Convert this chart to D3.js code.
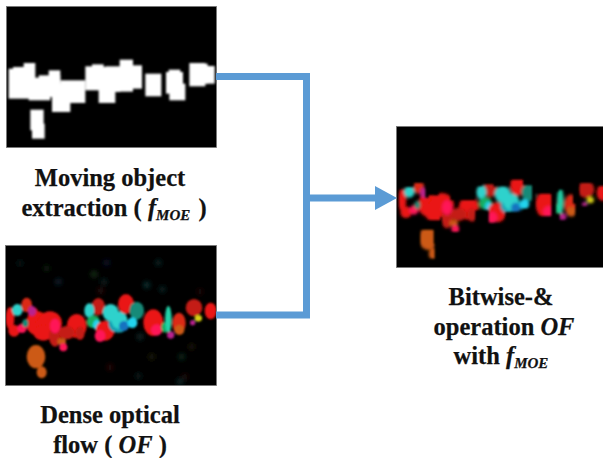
<!DOCTYPE html>
<html lang="en">
<head>
  <meta charset="utf-8">
  <title>Moving object extraction and optical flow</title>
  <script src="https://d3js.org/d3.v7.min.js"></script>
  <style>
    html, body { margin: 0; background: #fff; }
    svg { display: block; }
    text { font-family: "Liberation Serif", "Times New Roman", serif; font-weight: bold; font-size: 24.5px; fill: #111; stroke: #111; stroke-width: .25; text-anchor: middle; }
    .it { font-style: italic; }
    .sub { font-style: italic; font-size: 15px; }
  </style>
</head>
<body>
<svg width="603" height="458"></svg>
<script>

// all blob values are read in source pixels, 3x the page size
var maskBlocks = [
  [25, 205, 88, 295], [38, 200, 90, 292], [70, 188, 105, 240], [85, 232, 150, 300],
  [115, 225, 180, 290], [145, 210, 180, 260], [155, 250, 210, 335], [180, 240, 255, 308],
  [255, 198, 310, 270], [275, 192, 310, 210], [295, 200, 345, 308], [315, 198, 360, 275], [358, 178, 398, 274],
  [385, 195, 425, 265], [435, 220, 483, 288], [497, 215, 548, 280], [505, 208, 540, 240], [507, 250, 555, 300],
  [567, 188, 615, 258], [600, 190, 622, 250], [615, 197, 643, 250], [90, 328, 130, 390],
  [95, 370, 133, 415]
];

var flowBlobs = [
  [112, 250, 34, 36, 'red'], [150, 250, 36, 36, 'red'], [130, 278, 30, 24, 'red'], [100, 225, 16, 24, 'red'],
  [230, 258, 30, 36, 'red'], [165, 290, 18, 30, 'darkred'], [240, 280, 14, 20, 'darkred'], [200, 278, 24, 20, 'darkred'],
  [30, 235, 13, 34, 'red'], [42, 272, 17, 18, 'red'], [66, 265, 14, 14, 'pink'], [52, 210, 16, 18, 'cyan'],
  [80, 195, 16, 22, 'red2'], [96, 213, 12, 15, 'magenta'], [76, 250, 9, 12, 'teal'],
  [165, 258, 15, 22, 'pink'], [185, 305, 13, 10, 'orange'], [190, 322, 12, 12, 'pink'],
  [295, 200, 20, 26, 'darkred'], [268, 212, 15, 22, 'cyan'], [280, 245, 20, 19, 'green'], [290, 255, 11, 15, 'sky'],
  [315, 272, 28, 30, 'red'], [300, 288, 16, 18, 'pink'], [355, 252, 30, 26, 'blue2'], [332, 218, 24, 26, 'cyan'], [358, 240, 24, 26, 'cyan'],
  [378, 192, 24, 30, 'red'], [372, 258, 15, 15, 'blue'], [410, 212, 22, 27, 'teal'], [397, 248, 15, 16, 'sky'],
  [460, 248, 30, 40, 'red'], [470, 270, 17, 17, 'pink'], [495, 262, 11, 16, 'green'], [505, 238, 10, 40, 'mint'],
  [512, 285, 11, 11, 'magenta'], [537, 250, 20, 32, 'red2'], [538, 270, 15, 15, 'orange'], [582, 203, 25, 26, 'darkred'],
  [595, 235, 11, 10, 'yellow'], [578, 248, 8, 8, 'magenta'], [632, 213, 18, 25, 'red'], [108, 350, 28, 35, 'orange'],
  [125, 397, 15, 18, 'orange']
];

var noiseBlobs = [
  [282, 103, '#1c3a1c'], [175, 125, '#122838'], [312, 125, '#102828'], [440, 135, '#104040'], [487, 148, '#0f2a2a'],
  [302, 153, '#301010'], [475, 68, '#0f2a2a'], [320, 68, '#101830'], [600, 155, '#200808'], [420, 290, '#153030'],
  [545, 350, '#103020'], [455, 350, '#20200a'], [330, 382, '#300a0a'], [415, 408, '#102020'], [575, 320, '#201a0a'],
  [540, 425, '#103030'], [555, 410, '#200a08'], [60, 70, '#0a1a1a'], [140, 85, '#102010']
];

var flowColors = {
  red: '#ea1412', red2: '#dc2a16', darkred: '#c41a12', pink: '#ff1258', cyan: '#2fd2cc', magenta: '#b8208e',
  teal: '#128a78', green: '#12ae62', sky: '#22d4ee', blue: '#1272c0', blue2: '#12a0b2', mint: '#22d2a8',
  orange: '#cc5a12', yellow: '#d8d012'
};

var captionA = [['Moving object'], ['extraction ( ', ['it', 'f'], ['sub', 'MOE'], ' )']];
var captionB = [['Dense optical'], ['flow ( ', ['it', 'OF'], ' )']];
var captionC = [['Bitwise-&'], ['operation ', ['it', 'OF']], ['with ', ['it', 'f'], ['sub', 'MOE']]];

var svg = d3.select('svg');
var defs = svg.append('defs');
[['soft', .9], ['blur', 1.2], ['haze', 2.5]].forEach(([id, s]) => {
  defs.append('filter').attr('id', id).attr('x', '-20%').attr('y', '-20%').attr('width', '140%').attr('height', '140%')
    .append('feGaussianBlur').attr('stdDeviation', s);
});

function panel(id, x0, y0, x1, y1, dx, dy) {
  var x = d3.scaleLinear().domain([dx, dx + 628]).range([x0, x0 + 628 / 3]);
  var y = d3.scaleLinear().domain([dy, dy + 420]).range([y0, y0 + 140]);
  defs.append('clipPath').attr('id', id)
    .append('rect').attr('x', x0).attr('y', y0).attr('width', x1 - x0).attr('height', y1 - y0);
  var g = svg.append('g');
  g.append('rect').attr('x', x0 - .5).attr('y', y0 - .5).attr('width', x1 - x0 + 1).attr('height', y1 - y0 + 1)
    .attr('fill', '#000').attr('stroke', '#777').attr('stroke-width', .8);
  return {x, y, g: g.append('g').attr('clip-path', `url(#${id})`)};
}

function drawBlobs(g, p) {
  g.selectAll('ellipse.flow').data(flowBlobs).enter().append('ellipse').attr('class', 'flow')
    .attr('cx', d => p.x(d[0])).attr('cy', d => p.y(d[1]))
    .attr('rx', d => p.x(d[0] + d[2]) - p.x(d[0])).attr('ry', d => p.y(d[1] + d[3]) - p.y(d[1]))
    .attr('fill', d => flowColors[d[4]]);
}

// mask
var a = panel('clipA', 7, 7, 216, 147, 20, 20);
a.g.append('g').attr('filter', 'url(#soft)').selectAll('rect').data(maskBlocks).enter().append('rect')
  .attr('x', d => a.x(d[0])).attr('y', d => a.y(d[1]))
  .attr('width', d => a.x(d[2]) - a.x(d[0])).attr('height', d => a.y(d[3]) - a.y(d[1]))
  .attr('fill', '#fff');

// flow
var b = panel('clipB', 6, 246, 216, 385, 18, 18);
var noise = b.g.append('g').attr('filter', 'url(#haze)');
noise.selectAll('circle').data(noiseBlobs).enter().append('circle')
  .attr('cx', d => b.x(d[0])).attr('cy', d => b.y(d[1])).attr('r', 3).attr('fill', d => d[2]);
drawBlobs(b.g.append('g').attr('filter', 'url(#blur)'), b);

// flow & mask, flow is a little lower in this panel
var c = panel('clipC', 397, 127, 603, 267, 20, 22);
var shifted = {
  x: d3.scaleLinear().domain([18, 646]).range([c.x(23), c.x(651)]),
  y: d3.scaleLinear().domain([18, 438]).range([c.y(24), c.y(444)])
};
var maskC = defs.append('clipPath').attr('id', 'maskC');
maskC.selectAll('rect').data(maskBlocks).enter().append('rect')
  .attr('x', d => c.x(d[0])).attr('y', d => c.y(d[1] + 2))
  .attr('width', d => c.x(d[2]) - c.x(d[0])).attr('height', d => c.y(d[3]) - c.y(d[1]));
var softC = c.g.append('g').attr('filter', 'url(#soft)').append('g').attr('clip-path', 'url(#maskC)');
drawBlobs(softC.append('g').attr('filter', 'url(#blur)'), shifted);

// connector
var line = d3.line();
var blue = '#5b9bd5';
svg.append('path').attr('d', line([[216, 76.5], [306.5, 76.5], [306.5, 315], [216, 315]]))
  .attr('fill', 'none').attr('stroke', blue).attr('stroke-width', 7).attr('stroke-linejoin', 'miter');
svg.append('path').attr('d', line([[306, 198], [376, 198]]))
  .attr('fill', 'none').attr('stroke', blue).attr('stroke-width', 7);
svg.append('path').attr('d', line([[375, 186], [397, 198], [375, 210]]) + 'Z').attr('fill', blue);

// captions
function caption(lines, xs, y0) {
  lines.forEach((parts, i) => {
    var t = svg.append('text').attr('x', xs[i]).attr('y', y0 + i * 29.5);
    parts.forEach(p => {
      if (typeof p === 'string') t.append('tspan').text(p);
      else if (p[0] === 'sub') t.append('tspan').attr('class', 'sub').attr('dy', 4).text(p[1]);
      else t.append('tspan').attr('class', 'it').text(p[1]);
      if (p[0] === 'sub') t.append('tspan').attr('dy', -4).text('\u200a');
    });
  });
}
caption(captionA, [110, 114], 186);
caption(captionB, [110, 110], 423);
caption(captionC, [501, 504, 502], 305);

</script>
</body>
</html>
